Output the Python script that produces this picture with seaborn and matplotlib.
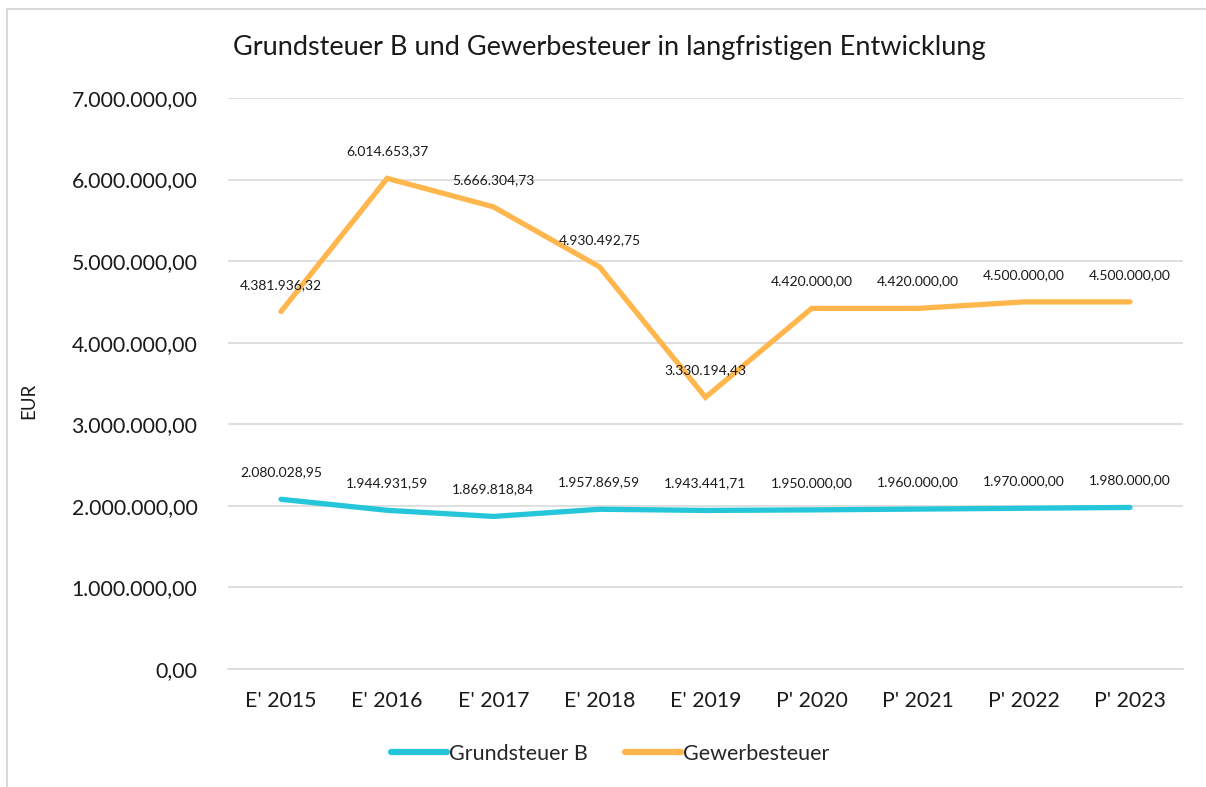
import pandas as pd
import matplotlib.pyplot as plt
import matplotlib.ticker as ticker
from matplotlib.patches import Rectangle
import seaborn as sns

years = ["E' 2015", "E' 2016", "E' 2017", "E' 2018", "E' 2019",
         "P' 2020", "P' 2021", "P' 2022", "P' 2023"]
grundsteuer_b = [2080028.95, 1944931.59, 1869818.84, 1957869.59, 1943441.71,
                 1950000.00, 1960000.00, 1970000.00, 1980000.00]
gewerbesteuer = [4381936.32, 6014653.37, 5666304.73, 4930492.75, 3330194.43,
                 4420000.00, 4420000.00, 4500000.00, 4500000.00]
series_names = ["Grundsteuer B", "Gewerbesteuer"]
colors = ["#26C6DA", "#FFB74D"]


def de_fmt(v):
    s = f"{v:,.2f}"
    return s.replace(",", "X").replace(".", ",").replace("X", ".")


sns.set_theme(style="white")
plt.rcParams['font.family'] = ['Lato', 'DejaVu Sans']

df = pd.DataFrame({
    'year': years * 2,
    'value': grundsteuer_b + gewerbesteuer,
    'series': [series_names[0]] * len(years) + [series_names[1]] * len(years),
})

fig = plt.figure(figsize=(12.06, 7.87), dpi=100)
ax = fig.add_axes([0.189, 0.15, 0.792, 0.7255])

sns.lineplot(data=df, x='year', y='value', hue='series', palette=colors,
             linewidth=3.8, sort=False, ax=ax, legend=False)
for line in ax.lines:
    line.set_solid_capstyle('round')
    line.set_solid_joinstyle('miter')

ax.set_xlim(-0.5, len(years) - 0.5)
ax.set_ylim(0, 7_000_000)
ax.yaxis.set_major_locator(ticker.MultipleLocator(1_000_000))
ax.yaxis.set_major_formatter(ticker.FuncFormatter(lambda x, _: de_fmt(x)))
ax.grid(True, axis='y', color='#D9D9D9', linewidth=1.2)
ax.set_axisbelow(True)
for side in ['top', 'right', 'left']:
    ax.spines[side].set_visible(False)
ax.spines['bottom'].set_color('#D9D9D9')
ax.spines['bottom'].set_linewidth(1.2)
ax.tick_params(axis='both', length=0, labelsize=15.3, colors='#1a1a1a')
ax.tick_params(axis='x', pad=16)
ax.tick_params(axis='y', pad=22)
ax.set_xlabel("")
ax.set_ylabel("EUR", fontsize=13.5, color='#1a1a1a')
ax.yaxis.set_label_coords(-0.2, 0.47)

for vals in [grundsteuer_b, gewerbesteuer]:
    for i, v in enumerate(vals):
        ax.annotate(de_fmt(v), (i, v), xytext=(0, 15), textcoords='offset points',
                    ha='center', va='bottom', fontsize=10, color='#1a1a1a')

fig.text(0.505, 1 - 48 / 787, "Grundsteuer B und Gewerbesteuer in langfristigen Entwicklung",
         ha='center', va='center', fontsize=19.5, color='#1a1a1a')

handles = [plt.Line2D([], [], color=c, linewidth=4.5, solid_capstyle='round') for c in colors]
fig.legend(handles, series_names, loc='center', bbox_to_anchor=(0.506, 1 - 754 / 787),
           ncol=2, frameon=False, fontsize=15.5, handlelength=2.6, handletextpad=0.12,
           columnspacing=1.7)

fig.patches.append(Rectangle((7 / 1206, -0.1), 1.2, 1 - 9 / 787 + 0.1,
                             transform=fig.transFigure, fill=False,
                             edgecolor='#D9D9D9', linewidth=1.5, zorder=0))

fig.savefig('out.png', dpi=100)
